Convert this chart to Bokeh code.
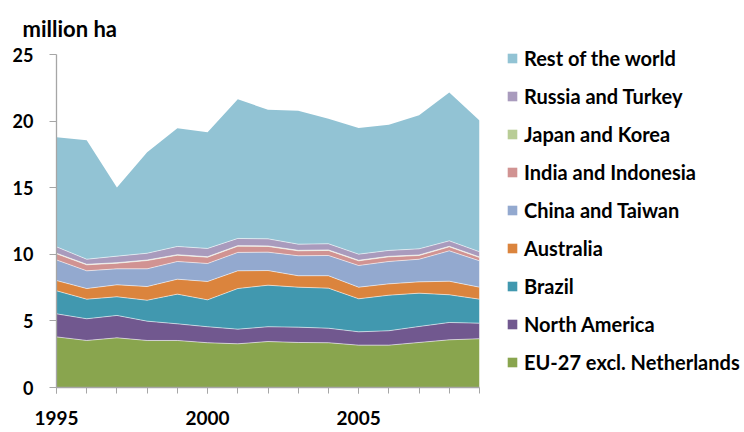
from bokeh.plotting import figure
from bokeh.models import (ColumnDataSource, Range1d, FixedTicker, Legend, LegendItem, Title)
from bokeh.embed import file_html
from bokeh.resources import INLINE

years = list(range(1995, 2010))
eu = [3.80, 3.53, 3.73, 3.53, 3.53, 3.36, 3.28, 3.45, 3.38, 3.36, 3.18, 3.18, 3.38, 3.58, 3.66]
north_america = [1.73, 1.63, 1.68, 1.45, 1.25, 1.20, 1.10, 1.11, 1.15, 1.09, 1.00, 1.08, 1.20, 1.30, 1.17]
brazil = [1.73, 1.47, 1.40, 1.57, 2.23, 2.02, 3.05, 3.12, 3.00, 3.01, 2.48, 2.67, 2.50, 2.08, 1.80]
australia = [0.77, 0.80, 0.90, 1.03, 1.12, 1.38, 1.33, 1.10, 0.86, 0.93, 0.87, 0.85, 0.85, 1.02, 0.90]
china = [1.55, 1.33, 1.20, 1.33, 1.33, 1.35, 1.38, 1.38, 1.50, 1.52, 1.63, 1.68, 1.70, 2.28, 1.98]
india = [0.46, 0.45, 0.42, 0.62, 0.47, 0.47, 0.47, 0.43, 0.37, 0.38, 0.35, 0.35, 0.28, 0.30, 0.25]
japan = [0.04, 0.04, 0.04, 0.04, 0.04, 0.04, 0.04, 0.04, 0.04, 0.04, 0.04, 0.04, 0.04, 0.04, 0.04]
russia = [0.48, 0.38, 0.49, 0.51, 0.62, 0.62, 0.54, 0.53, 0.46, 0.46, 0.46, 0.44, 0.46, 0.41, 0.39]
rest = [8.23, 8.94, 5.16, 7.59, 8.88, 8.73, 10.45, 9.69, 10.01, 9.38, 9.48, 9.43, 10.03, 11.13, 9.86]

series_names = ["EU-27 excl. Netherlands", "North America", "Brazil", "Australia",
                "China and Taiwan", "India and Indonesia", "Japan and Korea",
                "Russia and Turkey", "Rest of the world"]
series_values = [eu, north_america, brazil, australia, china, india, japan, russia, rest]
colors = ["#89A54E", "#71588F", "#4198AF", "#DB843D", "#93A9CF",
          "#D19392", "#B9CD96", "#A99BBD", "#92C3D4"]

y_ticks = [0, 5, 10, 15, 20, 25]
x_label_ticks = [1995, 2000, 2005]

keys = ["s%d" % i for i in range(len(series_names))]
data = {"year": years}
for k, v in zip(keys, series_values):
    data[k] = v
source = ColumnDataSource(data)

p = figure(frame_width=423, frame_height=333, output_backend="svg", toolbar_location=None,
           x_range=Range1d(1995, 2009), y_range=Range1d(0, 25),
           min_border_left=56, min_border_right=2, min_border_top=53, min_border_bottom=0)
p.outline_line_color = None
p.grid.visible = False

areas = p.varea_stack(stackers=keys, x="year", color=colors, source=source)
lines = p.vline_stack(stackers=keys[:-1], x="year", source=source,
                      line_color="white", line_width=0.8, line_alpha=0.7)

font = "Lato"
xa = p.xaxis[0]
xa.ticker = FixedTicker(ticks=x_label_ticks, minor_ticks=years)
xa.axis_line_color = "#A6A6A6"
xa.axis_line_width = 1.3
xa.major_tick_line_color = "#A6A6A6"
xa.minor_tick_line_color = "#A6A6A6"
xa.major_tick_in = 0
xa.major_tick_out = 6
xa.minor_tick_in = 0
xa.minor_tick_out = 6
xa.major_label_standoff = 17
xa.major_label_text_font = font
xa.major_label_text_font_style = "bold"
xa.major_label_text_font_size = "19px"
xa.major_label_text_color = "black"

ya = p.yaxis[0]
ya.ticker = FixedTicker(ticks=y_ticks, minor_ticks=[])
ya.axis_line_color = "#A6A6A6"
ya.axis_line_width = 1.3
ya.major_tick_line_color = "#A6A6A6"
ya.major_tick_in = 0
ya.major_tick_out = 7
ya.major_label_standoff = 16
ya.major_label_text_font = font
ya.major_label_text_font_style = "bold"
ya.major_label_text_font_size = "18px"
ya.major_label_text_color = "black"

items = [LegendItem(label=n, renderers=[r]) for n, r in zip(series_names, areas)]
items = items[::-1]
legend = Legend(items=items, location=(27, 13), orientation="vertical",
                border_line_color=None, background_fill_alpha=0,
                padding=0, margin=0, spacing=14,
                glyph_width=12, glyph_height=12, label_height=20, label_standoff=6,
                label_text_font=font, label_text_font_style="bold",
                label_text_font_size="20px", label_text_color="black")
p.add_layout(legend, "right")

unit = Title(text="million ha", align="left", offset=-34, standoff=25,
             text_font=font, text_font_style="bold", text_font_size="22px",
             text_color="black")
p.add_layout(unit, "above")

open("out.html", "w").write(file_html(p, INLINE))
